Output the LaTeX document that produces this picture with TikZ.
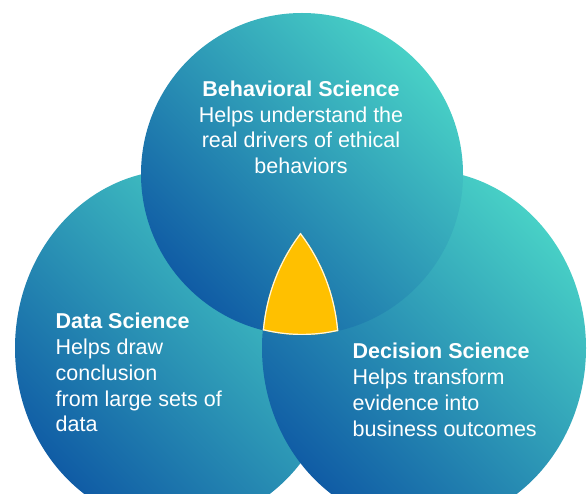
\documentclass[tikz,border=0pt]{standalone}
\usepackage{fontspec}
\setmainfont{Liberation Sans}
\usetikzlibrary{positioning}

\definecolor{vennteal}{RGB}{72,208,198}
\definecolor{vennblue}{RGB}{16,92,165}
\definecolor{venngold}{RGB}{255,192,0}
\definecolor{venncream}{RGB}{255,246,222}

\begin{document}
\begin{tikzpicture}[x=1pt,y=-1pt,
	venn/.style={top color=vennteal,bottom color=vennblue,shading angle=-45},
	every node/.style={text=white,inner sep=0pt,font=\fontsize{21.5}{25.8}\selectfont}]
	\useasboundingbox (0,0) rectangle (588,494);
	\clip (0,0) rectangle (588,494);
	% the three sets
	\shade[venn] (177,348) ellipse [x radius=162,y radius=178];
	\shade[venn] (424,348) ellipse [x radius=162,y radius=178];
	\shade[venn] (302,174) circle [radius=161];
	% common part
	\begin{scope}
		\clip (177,348) ellipse [x radius=162,y radius=178];
		\clip (424,348) ellipse [x radius=162,y radius=178];
		\clip (302,174) circle [radius=161];
		\fill[venngold] (0,0) rectangle (588,494);
		\draw[venncream,line width=2.4pt] (177,348) ellipse [x radius=162,y radius=178];
		\draw[venncream,line width=2.4pt] (424,348) ellipse [x radius=162,y radius=178];
		\draw[venncream,line width=2.4pt] (302,174) circle [radius=161];
	\end{scope}
	% labels
	\node[anchor=north,align=center] (behav) at (301,80.5) {\textbf{Behavioral Science}\\Helps understand the\\real drivers of ethical\\behaviors};
	\node[anchor=north west,align=left] (data) at (55.5,313) {\textbf{Data Science}\\Helps draw\\conclusion\\from large sets of\\data};
	\node[anchor=north west,align=left] (decis) at (352.5,343) {\textbf{Decision Science}\\Helps transform\\evidence into\\business outcomes};
\end{tikzpicture}
\end{document}
